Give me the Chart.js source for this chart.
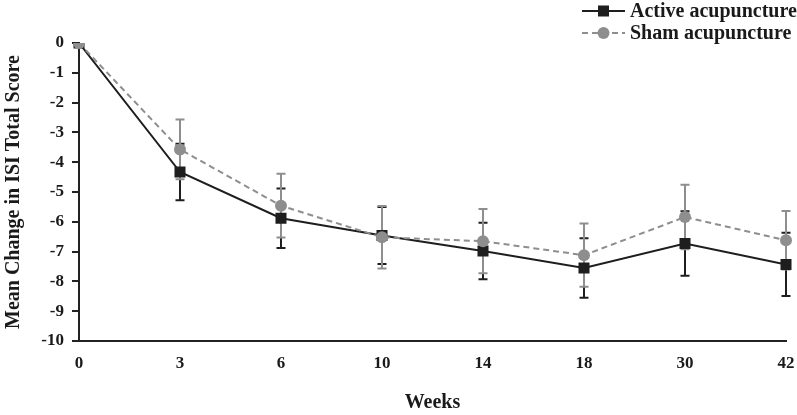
<!DOCTYPE html>
<html>
<head>
<meta charset="utf-8">
<script src="https://cdn.jsdelivr.net/npm/chart.js@4/dist/chart.umd.min.js"></script>
<style>
  html, body { margin: 0; padding: 0; background: #fff; }
  #wrap { width: 797px; height: 415px; position: relative; }
</style>
</head>
<body>
<div id="wrap"><canvas id="c" width="797" height="415"></canvas></div>
<script>
const weeks = ['0', '3', '6', '10', '14', '18', '30', '42'];
const activeMean = [0, -4.33, -5.88, -6.46, -6.98, -7.55, -6.73, -7.43];
const activeErr  = [0, 0.95, 1.0, 0.96, 0.95, 1.0, 1.08, 1.06];
const shamMean   = [0, -3.57, -5.46, -6.52, -6.65, -7.12, -5.84, -6.62];
const shamErr    = [0, 1.0, 1.07, 1.05, 1.08, 1.06, 1.08, 0.98];
const yTicks = [0, -1, -2, -3, -4, -5, -6, -7, -8, -9, -10];
const seriesNames = ['Active acupuncture', 'Sham acupuncture'];

const ACTIVE = '#1e1e1e';
const SHAM = '#8e8e8e';
const FONT = '"Liberation Serif", "Times New Roman", serif';

const errorBars = {
  id: 'errorBars',
  beforeDatasetsDraw(chart) {
    const ctx = chart.ctx;
    const y = chart.scales.y;
    const sets = [[0, activeMean, activeErr, ACTIVE], [1, shamMean, shamErr, SHAM]];
    ctx.save();
    sets.forEach(([di, mean, err, col]) => {
      const meta = chart.getDatasetMeta(di);
      meta.data.forEach((pt, i) => {
        if (!err[i]) return;
        const yt = y.getPixelForValue(mean[i] + err[i]);
        const yb = y.getPixelForValue(mean[i] - err[i]);
        ctx.strokeStyle = col;
        ctx.lineWidth = 2;
        ctx.beginPath();
        ctx.moveTo(pt.x, yt); ctx.lineTo(pt.x, yb);
        ctx.moveTo(pt.x - 4.5, yt); ctx.lineTo(pt.x + 4.5, yt);
        ctx.moveTo(pt.x - 4.5, yb); ctx.lineTo(pt.x + 4.5, yb);
        ctx.stroke();
      });
    });
    ctx.restore();
  }
};

const customLegend = {
  id: 'customLegend',
  afterDraw(chart) {
    const ctx = chart.ctx;
    ctx.save();
    const rows = [
      {name: seriesNames[0], col: ACTIVE, dash: [], style: 'rect', y: 11},
      {name: seriesNames[1], col: SHAM, dash: [6, 4], style: 'circle', y: 33}
    ];
    rows.forEach(r => {
      ctx.strokeStyle = r.col;
      ctx.lineWidth = 2;
      ctx.setLineDash(r.dash);
      ctx.beginPath();
      ctx.moveTo(582, r.y); ctx.lineTo(625, r.y);
      ctx.stroke();
      ctx.setLineDash([]);
      ctx.fillStyle = r.col;
      if (r.style === 'rect') {
        ctx.fillRect(598, r.y - 5.5, 11, 11);
      } else {
        ctx.beginPath(); ctx.arc(603.5, r.y, 6, 0, Math.PI * 2); ctx.fill();
      }
      ctx.fillStyle = '#1a1a1a';
      ctx.font = 'bold 20px ' + FONT;
      ctx.textBaseline = 'middle';
      ctx.textAlign = 'left';
      ctx.fillText(r.name, 630, r.y + 1);
    });
    ctx.restore();
  }
};

new Chart(document.getElementById('c'), {
  type: 'line',
  data: {
    labels: weeks,
    datasets: [
      {
        label: seriesNames[0],
        data: activeMean,
        borderColor: ACTIVE,
        backgroundColor: ACTIVE,
        borderWidth: 2,
        pointStyle: 'rect',
        pointRadius: 7.8,
        pointBorderWidth: 0,
        tension: 0,
        order: 2
      },
      {
        label: seriesNames[1],
        data: shamMean,
        borderColor: SHAM,
        backgroundColor: SHAM,
        borderWidth: 2,
        borderDash: [6, 4],
        pointStyle: 'circle',
        pointRadius: 6,
        pointBorderWidth: 0,
        tension: 0,
        order: 1
      }
    ]
  },
  options: {
    responsive: false,
    animation: false,
    devicePixelRatio: 1,
    layout: { padding: { top: 43, right: 11, left: 0, bottom: 0 } },
    plugins: { legend: { display: false }, tooltip: { enabled: false } },
    scales: {
      x: {
        type: 'category',
        offset: false,
        grid: { display: true, drawOnChartArea: false, drawTicks: true, tickLength: 12, color: 'rgba(0,0,0,0)' },
        border: { display: true, color: '#222', width: 2 },
        ticks: { color: '#1a1a1a', font: { family: FONT, size: 17, weight: 'bold' }, padding: 0, maxRotation: 0, autoSkip: false },
        title: { display: true, text: 'Weeks', color: '#1a1a1a', font: { family: FONT, size: 20, weight: 'bold' }, padding: { top: 0, bottom: 0 } },
        afterFit(s) { s.height = 74; }
      },
      y: {
        min: -10,
        max: 0,
        afterBuildTicks(s) { s.ticks = yTicks.map(v => ({ value: v })); },
        grid: { display: true, drawOnChartArea: false, drawTicks: true, tickLength: 7, color: '#222', lineWidth: 2 },
        border: { display: true, color: '#222', width: 2 },
        ticks: { color: '#1a1a1a', font: { family: FONT, size: 17, weight: 'bold' }, padding: 8 },
        title: { display: true, text: 'Mean Change in ISI Total Score', color: '#1a1a1a', font: { family: FONT, size: 20, weight: 'bold' }, padding: { top: 2, bottom: 0 } },
        afterFit(s) { s.width = 79; }
      }
    }
  },
  plugins: [errorBars, customLegend]
});
</script>
</body>
</html>
